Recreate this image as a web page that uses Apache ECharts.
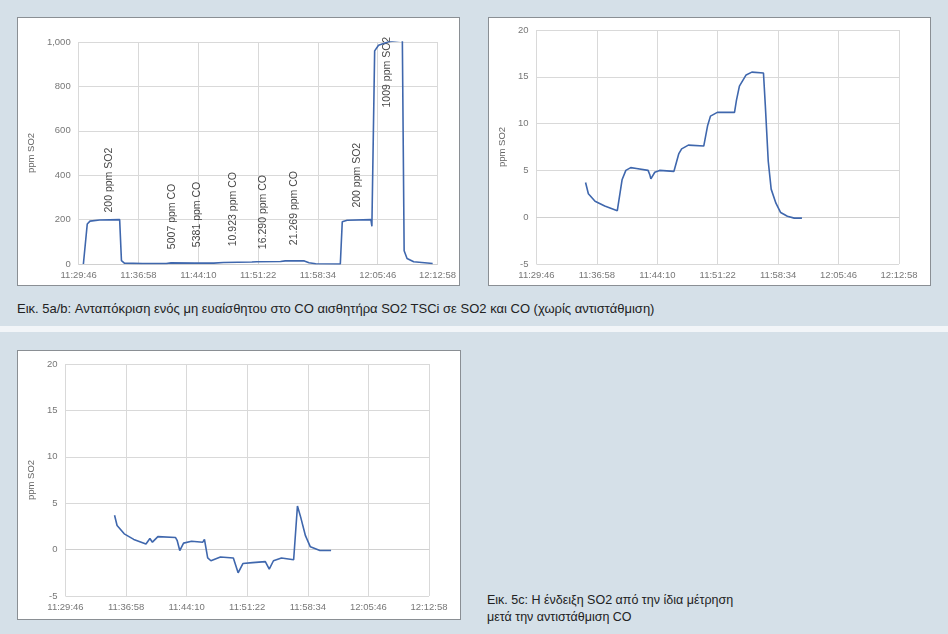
<!DOCTYPE html>
<html>
<head>
<meta charset="utf-8">
<script src="https://cdn.jsdelivr.net/npm/echarts@6/dist/echarts.min.js"></script>
<style>
  body { margin:0; width:948px; height:634px; background:#d5e0e8; position:relative; overflow:hidden; font-family:"Liberation Sans", Arial, sans-serif; }
  .panel { position:absolute; background:#fff; border:1px solid #8a8f94; box-sizing:border-box; }
  .cap { position:absolute; color:#222; font-size:13px; }
</style>
</head>
<body>
<div class="panel" id="c1" style="left:17px;top:17px;width:443px;height:269px;"></div>
<div class="panel" id="c2" style="left:488px;top:17px;width:443px;height:269px;"></div>
<div style="position:absolute;left:0;top:326px;width:948px;height:6px;background:#f2f5f8;"></div>
<div class="panel" id="c3" style="left:17px;top:350px;width:444px;height:270px;"></div>
<div class="cap" style="left:17px;top:301px;">Εικ. 5a/b: Ανταπόκριση ενός μη ευαίσθητου στο CO αισθητήρα SO2 TSCi σε SO2 και CO (χωρίς αντιστάθμιση)</div>
<div class="cap" style="left:487px;top:592px;font-size:12.5px;line-height:17px;">Εικ. 5c: Η ένδειξη SO2 από την ίδια μέτρηση<br>μετά την αντιστάθμιση CO</div>
<script>
// time in seconds since 11:29:46
var startSec = 11*3600 + 29*60 + 46;
var stepSec = 432;

// chart a: full response
var aTime = [34,48,62,82,151,296,309,330,461,633,667,839,976,1045,1251,1286,1458,1492,1630,1664,1712,1890,1904,1939,2111,2118,2138,2166,2248,2338,2351,2372,2420,2557];
var aVal  = [0,0,180,193,198,200,15,4,2,2,5,4,4,7,9,10,11,14,14,6,1,0,190,197,200,170,960,985,1003,1009,60,25,10,2];
var aNoteText = ['200 ppm SO2','5007 ppm CO','5381 ppm CO','10.923 ppm CO','16.290 ppm CO','21.269 ppm CO','200 ppm SO2','1009 ppm SO2'];
var aNoteTime = [220,674,852,1114,1334,1554,2014,2227];
var aNoteVal  = [232,67,76,80,67,85,254,705];

// chart b: zoom without compensation
var bTime = [351,371,419,488,578,591,612,639,674,715,798,811,818,846,880,983,990,1018,1038,1086,1196,1203,1224,1244,1293,1416,1430,1451,1499,1540,1623,1636,1657,1678,1712,1746,1794,1843,1898];
var bVal  = [3.7,2.5,1.7,1.2,0.7,0.6,4,5,5.3,5.2,5.0,4.5,4.1,4.8,5.0,4.9,4.8,6.8,7.3,7.7,7.6,7.5,9.8,10.8,11.2,11.2,12.5,14,15.2,15.5,15.4,12,6,3,1.5,0.5,0.1,-0.1,-0.1];

// chart c: after CO compensation
var cTime = [350,368,419,487,574,602,620,659,785,796,815,842,899,979,991,1014,1037,1105,1197,1231,1265,1334,1425,1453,1483,1540,1627,1654,1677,1711,1746,1814,1894];
var cVal  = [3.7,2.6,1.7,1.1,0.6,1.2,0.8,1.4,1.3,1.0,-0.1,0.7,0.9,0.8,1.1,-0.9,-1.2,-0.8,-0.9,-2.5,-1.5,-1.4,-1.3,-2.1,-1.2,-0.9,-1.1,4.7,3.5,1.5,0.3,-0.1,-0.1];

function fmtTime(v) {
    var t = startSec + v;
    var h = Math.floor(t/3600), m = Math.floor(t%3600/60), s = t%60;
    return h + ':' + (m<10?'0':'') + m + ':' + (s<10?'0':'') + s;
}
function pairs(x, y) { return x.map(function(v,i){ return [v, y[i]]; }); }

var gridLine = { show:true, lineStyle:{ color:'#d9d9d9', width:1 } };
function makeOption(grid, yMin, yMax, yInt, nameGap, data, extra) {
    var o = {
        animation:false,
        grid: grid,
        xAxis: { type:'value', min:0, max:stepSec*6, interval:stepSec,
            axisLabel:{ formatter:fmtTime, color:'#777', fontSize:9.5, margin:6 },
            axisLine:{ show:true, lineStyle:{ color:'#d0d0d0' } }, axisTick:{ show:false }, splitLine:gridLine },
        yAxis: { type:'value', min:yMin, max:yMax, interval:yInt, name:'ppm SO2', nameLocation:'middle', nameGap:nameGap,
            nameTextStyle:{ color:'#666', fontSize:9.5 },
            axisLabel:{ color:'#777', fontSize:9.5, margin:8 },
            axisLine:{ show:false }, axisTick:{ show:false }, splitLine:gridLine },
        series: [{ type:'line', data:data, showSymbol:false, lineStyle:{ color:'#3f67ad', width:1.6 } }]
    };
    if (extra) o.series.push(extra);
    return o;
}

var notes = {
    type:'scatter', symbolSize:0,
    data: aNoteTime.map(function(t,i){ return { value:[t, aNoteVal[i]], name:aNoteText[i] }; }),
    label:{ show:true, formatter:'{b}', rotate:90, position:[0,0], align:'left', verticalAlign:'middle', color:'#111', fontSize:10.5 }
};

echarts.init(document.getElementById('c1')).setOption(
    makeOption({ left:46, right:20, top:24, bottom:21 }, 0, 1000, 200, 36, pairs(aTime, aVal), notes));
echarts.init(document.getElementById('c2')).setOption(
    makeOption({ left:35, right:31, top:12, bottom:21 }, -5, 20, 5, 22, pairs(bTime, bVal)));
echarts.init(document.getElementById('c3')).setOption(
    makeOption({ left:35, right:31, top:13, bottom:23 }, -5, 20, 5, 22, pairs(cTime, cVal)));
</script>
</body>
</html>
